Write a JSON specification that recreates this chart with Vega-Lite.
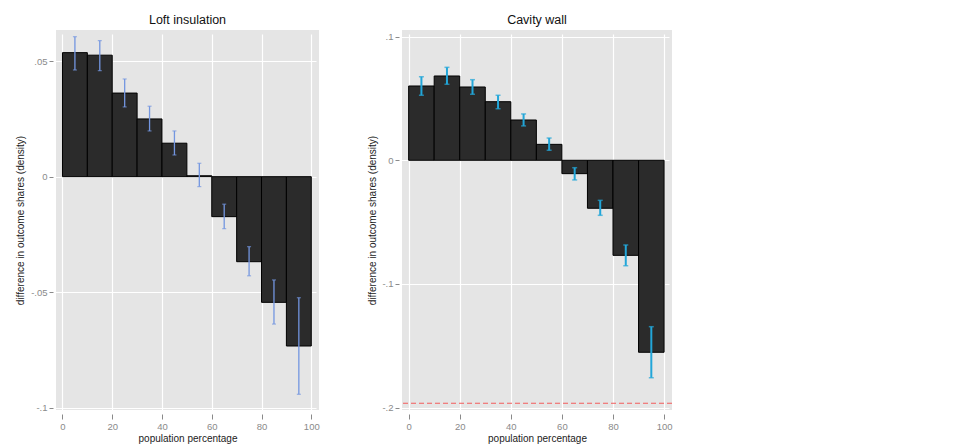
{
  "$schema": "https://vega.github.io/schema/vega-lite/v6.json",
  "background": "white",
  "padding": {"left": 15, "top": 13, "right": 5, "bottom": 3},
  "spacing": 47,
  "config": {
    "font": "Liberation Sans",
    "view": {"fill": "#e5e5e5", "stroke": null},
    "axis": {"domain": false, "gridColor": "#ffffff", "gridWidth": 1.2, "tickColor": "#8a8a8a", "labelColor": "#8a8a8a", "labelFontSize": 9.5, "titleFontSize": 10, "titleFontWeight": "normal", "titleColor": "#222222"},
    "axisX": {"offset": 4, "tickSize": 5, "labelPadding": 2, "titlePadding": 3},
    "axisY": {"offset": 3, "tickSize": 4, "labelPadding": 2},
    "title": {"fontSize": 12.5, "fontWeight": "normal", "color": "#111111", "offset": 4}
  },
  "datasets": {
    "loft": [
      {"lo": 0, "hi": 10, "mid": 5, "value": 0.0537, "elo": 0.0462, "ehi": 0.0606},
      {"lo": 10, "hi": 20, "mid": 15, "value": 0.0526, "elo": 0.0459, "ehi": 0.0589},
      {"lo": 20, "hi": 30, "mid": 25, "value": 0.0362, "elo": 0.0302, "ehi": 0.0423},
      {"lo": 30, "hi": 40, "mid": 35, "value": 0.0250, "elo": 0.0198, "ehi": 0.0305},
      {"lo": 40, "hi": 50, "mid": 45, "value": 0.0145, "elo": 0.0094, "ehi": 0.0198},
      {"lo": 50, "hi": 60, "mid": 55, "value": 0.0004, "elo": -0.0043, "ehi": 0.0058},
      {"lo": 60, "hi": 70, "mid": 65, "value": -0.0173, "elo": -0.0225, "ehi": -0.0119},
      {"lo": 70, "hi": 80, "mid": 75, "value": -0.0368, "elo": -0.0429, "ehi": -0.0303},
      {"lo": 80, "hi": 90, "mid": 85, "value": -0.0544, "elo": -0.0638, "ehi": -0.0447},
      {"lo": 90, "hi": 100, "mid": 95, "value": -0.0733, "elo": -0.0942, "ehi": -0.0524}
    ],
    "cavity": [
      {"lo": 0, "hi": 10, "mid": 5, "value": 0.0601, "elo": 0.0526, "ehi": 0.0676},
      {"lo": 10, "hi": 20, "mid": 15, "value": 0.0682, "elo": 0.0615, "ehi": 0.0752},
      {"lo": 20, "hi": 30, "mid": 25, "value": 0.0593, "elo": 0.0534, "ehi": 0.0652},
      {"lo": 30, "hi": 40, "mid": 35, "value": 0.0474, "elo": 0.0417, "ehi": 0.0526},
      {"lo": 40, "hi": 50, "mid": 45, "value": 0.0326, "elo": 0.0278, "ehi": 0.0375},
      {"lo": 50, "hi": 60, "mid": 55, "value": 0.0129, "elo": 0.0081, "ehi": 0.0180},
      {"lo": 60, "hi": 70, "mid": 65, "value": -0.0108, "elo": -0.0159, "ehi": -0.0060},
      {"lo": 70, "hi": 80, "mid": 75, "value": -0.0388, "elo": -0.0445, "ehi": -0.0324},
      {"lo": 80, "hi": 90, "mid": 85, "value": -0.0769, "elo": -0.0853, "ehi": -0.0685},
      {"lo": 90, "hi": 100, "mid": 95, "value": -0.1553, "elo": -0.1759, "ehi": -0.1346}
    ],
    "ref": [{"ref": -0.1966}]
  },
  "hconcat": [
    {
      "width": 263,
      "height": 380,
      "title": "Loft insulation",
      "data": {"name": "loft"},
      "layer": [
        {
          "mark": {"type": "rect", "fill": "#2b2b2b", "stroke": "#000000", "strokeWidth": 1},
          "encoding": {
            "x": {"field": "lo", "type": "quantitative", "scale": {"domain": [-2.6, 103.1], "nice": false, "zero": false}, "axis": {"values": [0, 20, 40, 60, 80, 100], "title": "population percentage"}},
            "x2": {"field": "hi"},
            "y": {"field": "value", "type": "quantitative", "scale": {"domain": [-0.101, 0.0635], "nice": false, "zero": false}, "axis": {"values": [-0.1, -0.05, 0, 0.05], "labelExpr": "replace(toString(datum.value), '0.', '.')", "title": "difference in outcome shares (density)", "minExtent": 24, "maxExtent": 24, "titlePadding": 4}},
            "y2": {"datum": 0}
          }
        },
        {
          "mark": {"type": "rule", "color": "#7396e0", "strokeWidth": 1.3},
          "encoding": {
            "x": {"field": "mid", "type": "quantitative"},
            "y": {"field": "elo", "type": "quantitative"},
            "y2": {"field": "ehi"}
          }
        },
        {
          "mark": {"type": "tick", "orient": "horizontal", "color": "#7396e0", "size": 4, "thickness": 1.2},
          "encoding": {
            "x": {"field": "mid", "type": "quantitative"},
            "y": {"field": "elo", "type": "quantitative"}
          }
        },
        {
          "mark": {"type": "tick", "orient": "horizontal", "color": "#7396e0", "size": 4, "thickness": 1.2},
          "encoding": {
            "x": {"field": "mid", "type": "quantitative"},
            "y": {"field": "ehi", "type": "quantitative"}
          }
        }
      ]
    },
    {
      "width": 270,
      "height": 380,
      "title": "Cavity wall",
      "layer": [
        {
          "data": {"name": "cavity"},
          "mark": {"type": "rect", "fill": "#2b2b2b", "stroke": "#000000", "strokeWidth": 1},
          "encoding": {
            "x": {"field": "lo", "type": "quantitative", "scale": {"domain": [-2.6, 103.1], "nice": false, "zero": false}, "axis": {"values": [0, 20, 40, 60, 80, 100], "title": "population percentage"}},
            "x2": {"field": "hi"},
            "y": {"field": "value", "type": "quantitative", "scale": {"domain": [-0.202, 0.1054], "nice": false, "zero": false}, "axis": {"values": [-0.2, -0.1, 0, 0.1], "labelExpr": "replace(toString(datum.value), '0.', '.')", "title": "difference in outcome shares (density)", "minExtent": 18, "maxExtent": 18, "titlePadding": 4}},
            "y2": {"datum": 0}
          }
        },
        {
          "data": {"name": "cavity"},
          "mark": {"type": "rule", "color": "#22a6d9", "strokeWidth": 2},
          "encoding": {
            "x": {"field": "mid", "type": "quantitative"},
            "y": {"field": "elo", "type": "quantitative"},
            "y2": {"field": "ehi"}
          }
        },
        {
          "data": {"name": "cavity"},
          "mark": {"type": "tick", "orient": "horizontal", "color": "#22a6d9", "size": 5, "thickness": 1.5},
          "encoding": {
            "x": {"field": "mid", "type": "quantitative"},
            "y": {"field": "elo", "type": "quantitative"}
          }
        },
        {
          "data": {"name": "cavity"},
          "mark": {"type": "tick", "orient": "horizontal", "color": "#22a6d9", "size": 5, "thickness": 1.5},
          "encoding": {
            "x": {"field": "mid", "type": "quantitative"},
            "y": {"field": "ehi", "type": "quantitative"}
          }
        },
        {
          "data": {"name": "ref"},
          "mark": {"type": "rule", "color": "#f25c5c", "strokeDash": [5, 3], "strokeWidth": 1.1},
          "encoding": {
            "y": {"field": "ref", "type": "quantitative"}
          }
        }
      ]
    }
  ]
}
